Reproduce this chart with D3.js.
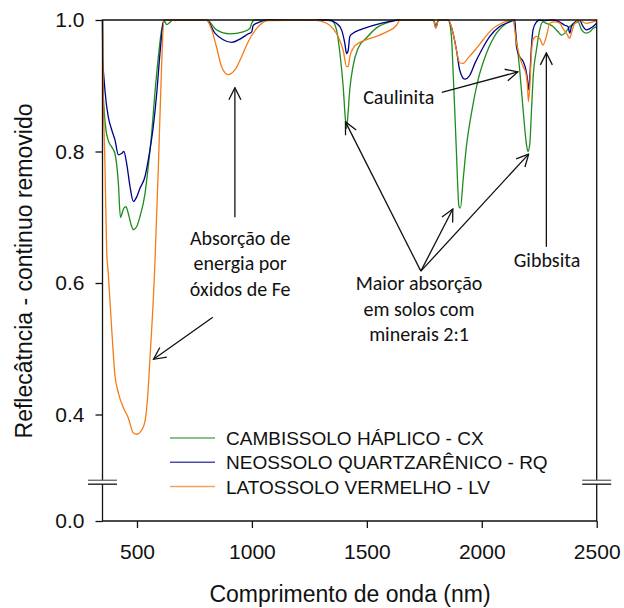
<!DOCTYPE html>
<html>
<head>
<meta charset="utf-8">
<script src="https://cdn.jsdelivr.net/npm/d3@7"></script>
<style>
  body { margin: 0; background: #fff; }
  svg text { font-family: "Liberation Sans", Arial, sans-serif; fill: #111; }
  svg text.note { font-family: Carlito, Calibri, Lato, sans-serif; font-size: 20px; }
</style>
</head>
<body>
<div class="chart"></div>
<script>
const WIDTH = 624;
const HEIGHT = 608;
const LEFT = 102.5;
const RIGHT = 596.7;
const TOP = 20;
const BOTTOM = 521;

// series: CAMBISSOLO HÁPLICO - CX
const cxWave = [350, 351, 357, 365, 375, 390, 404, 419, 428, 443, 452, 462, 477, 484, 499, 513, 535, 549, 564, 578, 593, 607, 617, 630, 642, 655,
  803, 846, 904, 962, 991, 999, 1013, 1346, 1368, 1383, 1397, 1407, 1412, 1416, 1426, 1440, 1462, 1499, 1542, 1600, 1636,
  1790, 1800, 1812, 1854, 1868, 1875, 1883, 1890, 1901, 1907, 1919, 1933, 1955, 1984, 2020, 2064, 2107, 2136,
  2151, 2165, 2180, 2194, 2201, 2209, 2216, 2223, 2238, 2252, 2266, 2281, 2310, 2332, 2347, 2361, 2383, 2405, 2419, 2434, 2455, 2470, 2484, 2499];
const cxRefl = [1.0, 0.909, 0.863, 0.833, 0.817, 0.807, 0.797, 0.752, 0.700, 0.714, 0.716, 0.706, 0.686, 0.681, 0.686, 0.701, 0.736, 0.777, 0.828, 0.889, 0.944, 0.985, 0.999, 0.993, 0.996, 1.0,
  1.0, 0.985, 0.979, 0.982, 0.987, 0.995, 1.0, 1.0, 0.985, 0.949, 0.899, 0.848, 0.835, 0.848, 0.895, 0.930, 0.957, 0.973, 0.988, 0.997, 1.0,
  1.0, 0.992, 1.0, 1.0, 0.975, 0.924, 0.858, 0.797, 0.716, 0.714, 0.757, 0.807, 0.858, 0.909, 0.949, 0.980, 0.995, 1.0,
  0.970, 0.924, 0.863, 0.812, 0.800, 0.812, 0.860, 0.910, 0.955, 0.985, 0.997, 0.995, 0.990, 0.982, 0.977, 0.980, 0.990, 0.995, 0.997, 0.985, 0.980, 0.982, 0.987, 0.990];

// series: NEOSSOLO QUARTZARÊNICO - RQ
const rqWave = [350, 351, 357, 365, 375, 390, 404, 419, 433, 443, 455, 470, 484, 499, 513, 535, 549, 571, 586, 600, 614, 622,
  803, 839, 875, 912, 948, 984, 999, 1006, 1035, 1064, 1325, 1368, 1390, 1404, 1412, 1419, 1426, 1440, 1470, 1528, 1600, 1644,
  1790, 1800, 1812, 1854, 1875, 1890, 1904, 1926, 1948, 1970, 1999, 2035, 2078, 2122, 2144,
  2151, 2165, 2180, 2192, 2199, 2203, 2209, 2216, 2223, 2238, 2252, 2266, 2310, 2339, 2361, 2375, 2383, 2390, 2405, 2426, 2441, 2455, 2470, 2484, 2499];
const rqRefl = [1.0, 0.944, 0.909, 0.878, 0.853, 0.833, 0.818, 0.795, 0.797, 0.800, 0.782, 0.746, 0.724, 0.731, 0.744, 0.762, 0.787, 0.838, 0.889, 0.949, 0.995, 1.0,
  1.0, 0.980, 0.970, 0.966, 0.971, 0.979, 0.982, 0.992, 0.997, 1.0, 1.0, 0.995, 0.985, 0.965, 0.949, 0.954, 0.975, 0.980, 0.985, 0.992, 0.998, 1.0,
  1.0, 0.988, 1.0, 1.0, 0.980, 0.954, 0.924, 0.910, 0.916, 0.934, 0.954, 0.975, 0.990, 0.997, 1.0,
  0.959, 0.944, 0.937, 0.924, 0.909, 0.894, 0.914, 0.959, 0.985, 0.997, 1.0, 0.999, 1.0, 0.997, 0.992, 0.990, 0.980, 0.990, 0.997, 0.999, 0.990, 0.985, 0.987, 0.990, 0.995];

// series: LATOSSOLO VERMELHO - LV
const lvWave = [350, 353, 361, 368, 375, 390, 404, 419, 440, 462, 484, 499, 520, 535, 549, 556, 564, 571, 578, 593, 607, 617,
  803, 825, 846, 868, 897, 926, 955, 984, 1020, 1071, 1269, 1325, 1353, 1375, 1397, 1412, 1419, 1426, 1440, 1470, 1499, 1542, 1586, 1629, 1644,
  1790, 1800, 1812, 1854, 1875, 1890, 1904, 1919, 1940, 1970, 2006, 2042, 2086, 2136,
  2151, 2165, 2180, 2192, 2199, 2203, 2209, 2216, 2223, 2238, 2252, 2266, 2281, 2296, 2317, 2339, 2353, 2368, 2383, 2390, 2405, 2426, 2455, 2484, 2499];
const lvRefl = [1.0, 0.904, 0.776, 0.650, 0.615, 0.530, 0.460, 0.433, 0.411, 0.395, 0.372, 0.370, 0.376, 0.390, 0.440, 0.483, 0.530, 0.574, 0.630, 0.776, 0.929, 1.0,
  1.0, 0.985, 0.959, 0.929, 0.917, 0.924, 0.944, 0.967, 0.987, 0.999, 1.0, 0.995, 0.987, 0.975, 0.954, 0.929, 0.929, 0.944, 0.957, 0.966, 0.970, 0.975, 0.982, 0.992, 1.0,
  1.0, 0.988, 1.0, 1.0, 0.980, 0.954, 0.935, 0.934, 0.942, 0.954, 0.970, 0.985, 0.995, 1.0,
  0.965, 0.944, 0.929, 0.919, 0.899, 0.876, 0.899, 0.949, 0.970, 0.975, 0.972, 0.962, 0.975, 0.995, 0.997, 0.995, 0.987, 0.980, 0.972, 0.980, 0.995, 0.999, 0.995, 0.997, 0.999];

const SERIES_NAMES = ["CAMBISSOLO HÁPLICO - CX", "NEOSSOLO QUARTZARÊNICO - RQ", "LATOSSOLO VERMELHO - LV"];
const COLORS = ["#1e8c1e", "#00008b", "#f47b16"];

const X_TICKS = [500, 1000, 1500, 2000, 2500];
const Y_TICKS = [0.4, 0.6, 0.8, 1.0];
const Y_LOW_TICKS = [0.0];
const Y_BREAK_LOW = 0.056;
const Y_BREAK_HIGH = 0.3;

// annotations, in data units (nm, reflectance)
const ARROWS = [
  [[926, 0.700], [926, 0.897]],
  [[830, 0.548], [572, 0.484]],
  [[1826, 0.890], [2157, 0.921]],
  [[1735, 0.618], [1407, 0.845]],
  [[1735, 0.618], [1874, 0.7125]],
  [[1735, 0.618], [2204, 0.796]],
  [[2281, 0.655], [2281, 0.950]]
];
const NOTES = [
  {lines: ["Absorção de", "energia por", "óxidos de Fe"], at: [949, 0.658], anchor: "middle"},
  {lines: ["Caulinita"], at: [1484, 0.873], anchor: "start"},
  {lines: ["Maior absorção", "em solos com", "minerais 2:1"], at: [1727, 0.589], anchor: "middle"},
  {lines: ["Gibbsita"], at: [2139, 0.624], anchor: "start"}
];

const svg = d3.select(".chart").append("svg").attr("width", WIDTH).attr("height", HEIGHT);

// scales
const xScale = d3.scaleLinear().domain([350, 2500]).range([LEFT, RIGHT]);
const yScale = d3.scaleLinear().domain([0.4, 1.0]).range([414.5, TOP]);
const pxPerUnit = yScale(0.4) - yScale(1.0);
const yLow = d3.scaleLinear().domain([0, Y_BREAK_LOW]).range([BOTTOM, BOTTOM - Y_BREAK_LOW * pxPerUnit / 0.6]);

// curves
const line = d3.line().x(d => xScale(d[0])).y(d => yScale(d[1])).curve(d3.curveMonotoneX);
const allSeries = [[cxWave, cxRefl], [rqWave, rqRefl], [lvWave, lvRefl]];
allSeries.forEach(([w, r], i) => {
  svg.append("path")
    .datum(w.map((v, j) => [v, r[j]]))
    .attr("d", line)
    .attr("fill", "none")
    .attr("stroke", COLORS[i])
    .attr("stroke-width", 1.3);
});

// frame (with axis break)
const yTopBreak = yScale(Y_BREAK_HIGH);
const yLowBreak = yLow(Y_BREAK_LOW);
const frame = svg.append("g").attr("stroke", "#111").attr("stroke-width", 1.3).attr("fill", "none");
frame.append("path").attr("d", `M${LEFT},${yTopBreak}V${TOP}H${RIGHT}V${yTopBreak}`);
frame.append("path").attr("d", `M${LEFT},${yLowBreak}V${BOTTOM}H${RIGHT}V${yLowBreak}`);
[LEFT, RIGHT].forEach(x => {
  frame.append("line").attr("x1", x - 14.5).attr("x2", x + 14.5).attr("y1", yTopBreak).attr("y2", yTopBreak).attr("stroke", "#666");
  frame.append("line").attr("x1", x - 14.5).attr("x2", x + 14.5).attr("y1", yLowBreak).attr("y2", yLowBreak);
});

// X-Axis
const xAxis = svg.append("g").attr("transform", `translate(0, ${BOTTOM})`)
  .call(d3.axisBottom(xScale).tickValues(X_TICKS).tickFormat(d3.format("d")).tickSize(7).tickPadding(16).tickSizeOuter(0));
xAxis.select(".domain").remove();
xAxis.selectAll("line").attr("stroke", "#111").attr("stroke-width", 1.3);
xAxis.selectAll("text").attr("font-size", 21).attr("font-family", null);

// Y-Axis (upper and lower segments)
const yAxis = svg.append("g").attr("transform", `translate(${LEFT}, 0)`)
  .call(d3.axisLeft(yScale).tickValues(Y_TICKS).tickFormat(d3.format(".1f")).tickSize(7).tickPadding(11).tickSizeOuter(0));
const yAxisLow = svg.append("g").attr("transform", `translate(${LEFT}, 0)`)
  .call(d3.axisLeft(yLow).tickValues(Y_LOW_TICKS).tickFormat(d3.format(".1f")).tickSize(7).tickPadding(11).tickSizeOuter(0));
[yAxis, yAxisLow].forEach(a => {
  a.select(".domain").remove();
  a.selectAll("line").attr("stroke", "#111").attr("stroke-width", 1.3);
  a.selectAll("text").attr("font-size", 21).attr("font-family", null);
});

// axis titles
svg.append("text").attr("x", 350).attr("y", 602).attr("text-anchor", "middle")
  .attr("font-size", 23).text("Comprimento de onda (nm)");
svg.append("text").attr("transform", "translate(32, 271) rotate(-90)").attr("text-anchor", "middle")
  .attr("font-size", 23).text("Reflecâtncia - continuo removido");

// legend
const legend = svg.append("g").attr("transform", "translate(170, 438)");
SERIES_NAMES.forEach((name, i) => {
  const row = legend.append("g").attr("transform", `translate(0, ${i * 24.3})`);
  row.append("line").attr("x1", 0).attr("x2", 45).attr("stroke", COLORS[i]).attr("stroke-opacity", 0.7).attr("stroke-width", 1.5);
  row.append("text").attr("x", 56).attr("y", 7).attr("font-size", 19).text(name);
});

// annotations
svg.append("defs").append("marker")
  .attr("id", "head").attr("viewBox", "0 -7 14 14").attr("refX", 13).attr("refY", 0)
  .attr("markerWidth", 14).attr("markerHeight", 14).attr("markerUnits", "userSpaceOnUse").attr("orient", "auto")
  .append("path").attr("d", "M1,-6L13,0L1,6").attr("fill", "none").attr("stroke", "#111").attr("stroke-width", 1.3);

ARROWS.forEach(([a, b]) => {
  svg.append("line")
    .attr("x1", xScale(a[0])).attr("y1", yScale(a[1]))
    .attr("x2", xScale(b[0])).attr("y2", yScale(b[1]))
    .attr("stroke", "#111").attr("stroke-width", 1.3)
    .attr("marker-end", "url(#head)");
});

NOTES.forEach(n => {
  const t = svg.append("text").attr("class", "note")
    .attr("x", xScale(n.at[0])).attr("y", yScale(n.at[1])).attr("text-anchor", n.anchor);
  n.lines.forEach((l, i) => {
    t.append("tspan").attr("x", xScale(n.at[0])).attr("dy", i === 0 ? 0 : 25.5).text(l);
  });
});
</script>
</body>
</html>
